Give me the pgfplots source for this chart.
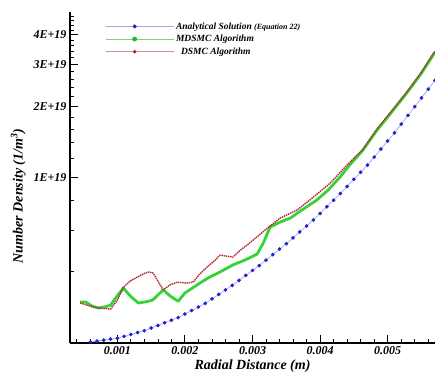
\documentclass[border=0pt]{standalone}
\usepackage{pgfplots}
\pgfplotsset{compat=1.18}
\usepackage{fontspec}
\setmainfont{Liberation Serif}
\definecolor{bluemark}{RGB}{35,35,205}
\definecolor{blueline}{RGB}{165,165,235}
\definecolor{greenmain}{RGB}{55,210,55}
\definecolor{greenmark}{RGB}{35,185,35}
\definecolor{greenlight}{RGB}{120,215,120}
\definecolor{redmain}{RGB}{180,35,45}
\definecolor{redlight}{RGB}{205,150,150}

\pgfplotstableread{
x y
0.0006 2.018e18
0.0007 2.037e18
0.0008 2.056e18
0.0009 2.075e18
0.0010 2.094e18
0.0011 2.133e18
0.0012 2.173e18
0.0013 2.213e18
0.0014 2.254e18
0.0015 2.312e18
0.0016 2.371e18
0.0017 2.432e18
0.0018 2.495e18
0.0019 2.559e18
0.0020 2.649e18
0.0021 2.742e18
0.0022 2.838e18
0.0023 2.938e18
0.0024 3.069e18
0.0025 3.206e18
0.0026 3.350e18
0.0027 3.499e18
0.0028 3.673e18
0.0029 3.855e18
0.0030 4.046e18
0.0031 4.246e18
0.0032 4.477e18
0.0033 4.721e18
0.0034 4.977e18
0.0035 5.248e18
0.0036 5.559e18
0.0037 5.888e18
0.0038 6.237e18
0.0039 6.607e18
0.0040 7.047e18
0.0041 7.516e18
0.0042 8.017e18
0.0043 8.551e18
0.0044 9.162e18
0.0045 9.817e18
0.0046 1.052e19
0.0047 1.127e19
0.0048 1.219e19
0.0049 1.318e19
0.0050 1.426e19
0.0051 1.542e19
0.0052 1.679e19
0.0053 1.828e19
0.0054 1.991e19
0.0055 2.168e19
0.0056 2.360e19
0.0057 2.570e19
}\analytical

\pgfplotstableread{
x y
0.00045 2.98e18
0.00053 2.98e18
0.00063 2.86e18
0.00072 2.81e18
0.00082 2.84e18
0.00090 2.89e18
0.00100 3.16e18
0.00109 3.41e18
0.00119 3.16e18
0.00131 2.95e18
0.00141 2.98e18
0.00152 3.03e18
0.00168 3.35e18
0.00178 3.16e18
0.00190 3.00e18
0.00200 3.25e18
0.00222 3.58e18
0.00237 3.80e18
0.00252 3.99e18
0.00271 4.27e18
0.00289 4.48e18
0.00307 4.75e18
0.00316 5.29e18
0.00326 6.17e18
0.00341 6.48e18
0.00356 6.74e18
0.00373 7.28e18
0.00395 8.02e18
0.00412 8.85e18
0.00429 1.00e19
0.00444 1.13e19
0.00463 1.30e19
0.00484 1.58e19
0.00506 1.89e19
0.00528 2.27e19
0.00549 2.73e19
0.00570 3.38e19
}\mdsmc

\pgfplotstableread{
x y
0.00045 2.95e18
0.00060 2.86e18
0.00072 2.81e18
0.00090 2.78e18
0.00100 3.03e18
0.00109 3.44e18
0.00119 3.65e18
0.00130 3.80e18
0.00138 3.91e18
0.00146 3.99e18
0.00153 3.95e18
0.00161 3.61e18
0.00168 3.35e18
0.00178 3.52e18
0.00189 3.61e18
0.00203 3.58e18
0.00212 3.61e18
0.00222 3.91e18
0.00233 4.19e18
0.00245 4.48e18
0.00252 4.70e18
0.00262 4.65e18
0.00271 4.61e18
0.00282 4.93e18
0.00292 5.18e18
0.00301 5.44e18
0.00322 6.11e18
0.00341 6.74e18
0.00366 7.28e18
0.00390 8.26e18
0.00415 9.46e18
0.00440 1.13e19
0.00463 1.31e19
0.00484 1.60e19
0.00506 1.91e19
0.00528 2.29e19
0.00549 2.76e19
0.00570 3.42e19
}\dsmc

\begin{document}
\begin{tikzpicture}
\path[use as bounding box] (-70pt,-33pt) rectangle (365pt,343pt);
\begin{axis}[
  scale only axis, width=365pt, height=331pt,
  xmin=0.0003, xmax=0.0057,
  ymode=log, ymin=2e18, ymax=5e19,
  axis x line*=bottom, axis y line*=left,
  axis line style={line width=1.4pt,-},
  scaled x ticks=false,
  xtick={0.001,0.002,0.003,0.004,0.005},
  xticklabels={0.001,0.002,0.003,0.004,0.005},
  minor xtick={0.0004,0.0006,0.0008,0.0012,0.0014,0.0016,0.0018,0.0022,0.0024,0.0026,0.0028,0.0032,0.0034,0.0036,0.0038,0.0042,0.0044,0.0046,0.0048,0.0052,0.0054,0.0056},
  ytick={1e19,2e19,3e19,4e19},
  yticklabels={1E+19,2E+19,3E+19,4E+19},
  minor ytick={4e18,6e18,8e18,1.2e19,1.4e19,1.6e19,1.8e19,2.2e19,2.4e19,2.6e19,2.8e19,3.2e19,3.4e19,3.6e19,3.8e19,4.2e19,4.4e19,4.6e19,4.8e19},
  tick align=inside,
  major tick length=8pt, minor tick length=4pt,
  major tick style={black, line width=1.1pt},
  minor tick style={black, line width=0.7pt},
  ticklabel style={font=\fontsize{12}{12}\selectfont\bfseries\itshape},
  xlabel={Radial Distance (m)},
  ylabel={Number Density (1/m\textsuperscript{3})},
  label style={font=\fontsize{14}{14}\selectfont\bfseries\itshape},
  xlabel style={at={(axis description cs:0.5,-0.069)}, anchor=center},
  ylabel style={at={(axis description cs:-0.142,0.444)}, anchor=center, rotate=0},
  legend style={draw=none, fill=none, at={(0.096,0.975)}, anchor=north west,
    font=\fontsize{9.5}{10}\selectfont\bfseries\itshape, inner sep=0pt,
    row sep=0.5pt},
  legend cell align=left,
  legend image code/.code={\path (0pt,0pt) -- (68pt,0pt);\draw[mark repeat=2,mark phase=2,#1] plot coordinates {(0pt,0pt) (29pt,0pt) (58pt,0pt)};},
]
\addlegendimage{blueline, line width=0.8pt, mark=*, mark size=1.6pt, mark options={draw=bluemark, fill=bluemark}}
\addlegendentry{Analytical Solution {\fontsize{8}{8}\selectfont (Equation 22)}}
\addlegendimage{greenlight, line width=0.8pt, mark=*, mark size=2pt, mark options={draw=greenmark, fill=greenmark}}
\addlegendentry{MDSMC Algorithm}
\addlegendimage{redlight, line width=0.8pt, mark=*, mark size=1.4pt, mark options={draw=redmain, fill=redmain}}
\addlegendentry{\hspace{5pt}DSMC Algorithm}

\addplot[forget plot, blueline, line width=0.7pt, mark=*, mark size=1.5pt, mark options={draw=bluemark, fill=bluemark}] table {\analytical};
\addplot[forget plot, greenmain, line width=2.8pt, line join=round] table {\mdsmc};
\addplot[forget plot, redmain, line width=1.4pt, line join=round, dash pattern=on 1.4pt off 0.8pt] table {\dsmc};
\end{axis}
\end{tikzpicture}
\end{document}
